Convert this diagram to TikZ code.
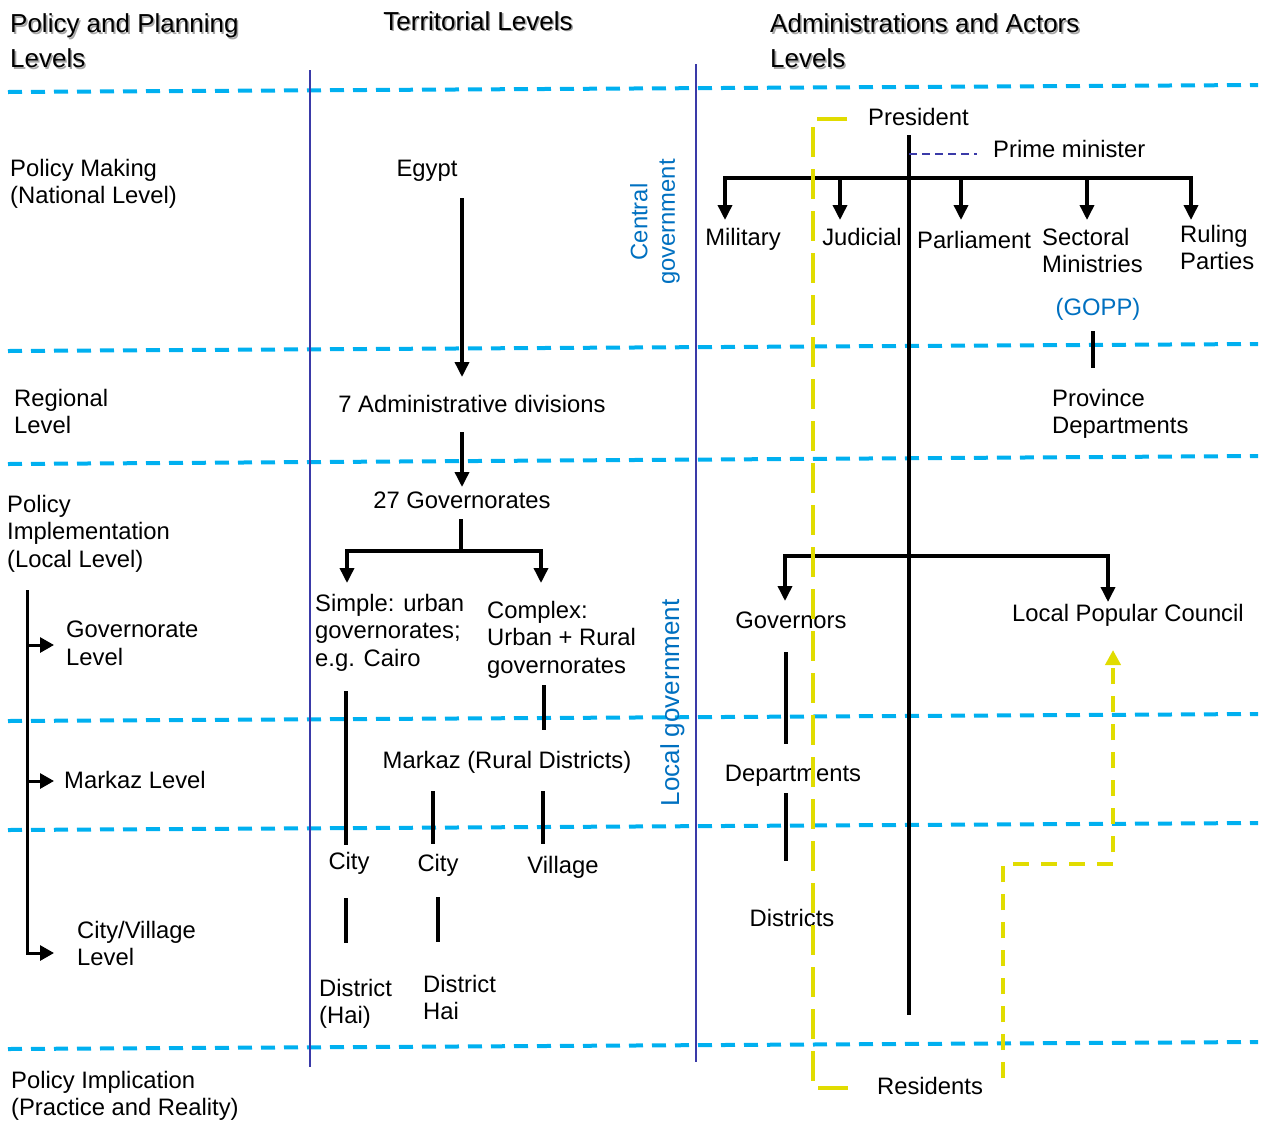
\documentclass[tikz,border=0pt]{standalone}
\usepackage{fontspec}
\setmainfont{Liberation Sans}
\usetikzlibrary{arrows.meta}
\definecolor{sky}{HTML}{00B0F0}
\definecolor{navy}{HTML}{3A3AA8}
\definecolor{cblue}{HTML}{0070C0}
\definecolor{ylw}{HTML}{E1DC00}
\begin{document}
\begin{tikzpicture}[x=1pt,y=-1pt,
  txt/.style={inner sep=0pt, font=\fontsize{23.8}{27.5}\selectfont, align=left},
  ctr/.style={txt, anchor=base},
  lft/.style={txt, anchor=north west},
  lbase/.style={txt, anchor=base west},
  hdr/.style={inner sep=0pt, font=\fontsize{26}{35}\selectfont, align=left},
  level/.style={sky, line width=4pt, dash pattern=on 14pt off 9pt},
  column/.style={navy, line width=2pt},
  link/.style={black, line width=3.5pt},
  arr/.style={link, -{Triangle[length=15pt,width=14pt]}},
  darr/.style={link, {Triangle[length=15pt,width=14pt]}-{Triangle[length=15pt,width=14pt]}},
  sarr/.style={black, line width=3pt, -{Triangle[length=14pt,width=15pt]}},
  flow/.style={ylw, line width=3.5pt, dash pattern=on 30pt off 12pt},
  back/.style={ylw, line width=4pt, dash pattern=on 16pt off 12pt},
]
\useasboundingbox (0,0) rectangle (1266,1120);

% level separators
\draw[level] (8,92) -- (1258,85);
\draw[level] (8,351) -- (1258,344);
\draw[level] (8,464) -- (1258,456);
\draw[level] (8,721) -- (1258,714);
\draw[level] (8,830) -- (1258,823);
\draw[level] (8,1049) -- (1258,1042);

% column separators
\draw[column] (310,70) -- (310,1067);
\draw[column] (696,64) -- (696,1062);

% column headings (with soft shadow)
\foreach \dx/\col in {1.6/black!35, 0/black}{
  \node[hdr, anchor=north west, text=\col] (hA\dx) at (10+\dx,13.7+\dx) {Policy and Planning\\Levels};
  \node[hdr, anchor=base, text=\col] (hB\dx) at (478+\dx,30.3+\dx) {Territorial Levels};
  \node[hdr, anchor=north west, text=\col] (hC\dx) at (770+\dx,13.7+\dx) {Administrations and Actors\\Levels};
}

% planning levels
\node[lft] (pmaking) at (10,159) {Policy Making\\(National Level)};
\node[lft] (regional) at (14,389) {Regional\\Level};
\node[lft] (impl) at (7,495) {Policy\\Implementation\\(Local Level)};
\node[lft] (govlvl) at (66,621) {Governorate\\Level};
\node[lbase] (markazlvl) at (64,788.5) {Markaz Level};
\node[lft] (cvlvl) at (77,921) {City/Village\\Level};
\node[lft] (pimpl) at (11,1071) {Policy Implication\\(Practice and Reality)};

\coordinate (lvTop) at (27,590);
\coordinate (lvGov) at (27,645);
\coordinate (lvMar) at (27,781);
\coordinate (lvCit) at (27,953);
\draw[sarr] (lvTop) -- (lvCit) -- ([xshift=27pt]lvCit);
\draw[sarr] (lvGov) -- ([xshift=27pt]lvGov);
\draw[sarr] (lvMar) -- ([xshift=27pt]lvMar);

% territorial levels
\node[ctr] (egypt) at (427,176.5) {Egypt};
\node[ctr] (divs) at (472,412.5) {7 Administrative divisions};
\node[ctr] (govs) at (462,508.5) {27 Governorates};
\node[lft] (simple) at (315,594) {Simple: urban\\governorates;\\e.g. Cairo};
\node[lft] (complex) at (487,601) {Complex:\\Urban + Rural\\governorates};
\node[ctr] (markaz) at (507,768.5) {Markaz (Rural Districts)};
\node[ctr] (city1) at (349,869.5) {City};
\node[ctr] (city2) at (438,871.5) {City};
\node[ctr] (village) at (563,873.5) {Village};
\node[lft] (dist1) at (319,979) {District\\(Hai)};
\node[lft] (dist2) at (423,975) {District\\Hai};
\node[txt, align=center, text=cblue, rotate=90] (central) at (655,222) {Central\\government};
\node[inner sep=0pt, font=\fontsize{26}{30}\selectfont, anchor=base, text=cblue, rotate=90] (localgov) at (679,703) {Local government};

\coordinate (egyOut) at (462,198);
\coordinate (divIn) at (462,377);
\coordinate (divOut) at (462,432);
\coordinate (govIn) at (462,487);
\coordinate (govOut) at (461,519);
\coordinate (govBus) at (461,551);
\coordinate (simIn) at (347,583);
\coordinate (comIn) at (541,583);
\draw[arr] (egyOut) -- (divIn);
\draw[arr] (divOut) -- (govIn);
\draw[link] (govOut) -- (govBus);
\draw[darr] (simIn) -- (simIn |- govBus) -- (comIn |- govBus) -- (comIn);
\draw[link] (346,691) -- (346,845);
\draw[link] (544,685) -- (544,730);
\draw[link] (433,791) -- (433,844);
\draw[link] (543,791) -- (543,844);
\draw[link] (346,898) -- (346,943);
\draw[link] (438,897) -- (438,942);

% administrations and actors
\node[lbase] (president) at (868,125.5) {President};
\node[lbase] (pminister) at (993,157.5) {Prime minister};
\node[ctr] (military) at (743,245.5) {Military};
\node[ctr] (judicial) at (862,245.5) {Judicial};
\node[ctr] (parliament) at (974,248.5) {Parliament};
\node[lft] (sectoral) at (1042,228) {Sectoral\\Ministries};
\node[lft] (ruling) at (1180,225) {Ruling\\Parties};
\node[ctr, text=cblue] (gopp) at (1098,315.5) {(GOPP)};
\node[lft] (provdep) at (1052,389) {Province\\Departments};
\node[ctr] (governors) at (791,628.5) {Governors};
\node[ctr] (lpc) at (1128,621.5) {Local Popular Council};
\node[ctr] (depts) at (793,781.5) {Departments};
\node[ctr] (districts) at (792,926.5) {Districts};
\node[ctr] (residents) at (930,1094.5) {Residents};

% state spine and branches
\coordinate (spineTop) at (909,135);
\coordinate (spineBot) at (909,1015);
\draw[link] (spineTop) -- (spineBot);
\draw[navy, line width=1.6pt, dash pattern=on 8pt off 5pt] (909,154) -- (977,154);
\coordinate (milIn) at (725,220);
\coordinate (rulIn) at (1191,220);
\coordinate (topBus) at (725,178);
\draw[darr] (milIn) -- (topBus) -- (rulIn |- topBus) -- (rulIn);
\foreach \bx in {840,961,1087}
  \draw[arr] (\bx,178) -- (\bx,220);
\draw[link] (1093,331) -- (1093,368);

\coordinate (gvIn) at (785,601);
\coordinate (lpIn) at (1108,602);
\coordinate (lowBus) at (785,556);
\draw[darr] (gvIn) -- (lowBus) -- (lpIn |- lowBus) -- (lpIn);
\draw[link] (786,652) -- (786,744);
\draw[link] (786,793) -- (786,861);

% citizens' routes
\draw[flow] (847,119) -- (813,119) -- (813,1088) -- (853,1088);
\coordinate (resOut) at (1003,1078);
\coordinate (lpcBack) at (1113,650);
\draw[back, -{Triangle[length=15pt,width=15pt]}] (resOut) -- (1003,864) -- (1113,864) -- (lpcBack);
\end{tikzpicture}
\end{document}
